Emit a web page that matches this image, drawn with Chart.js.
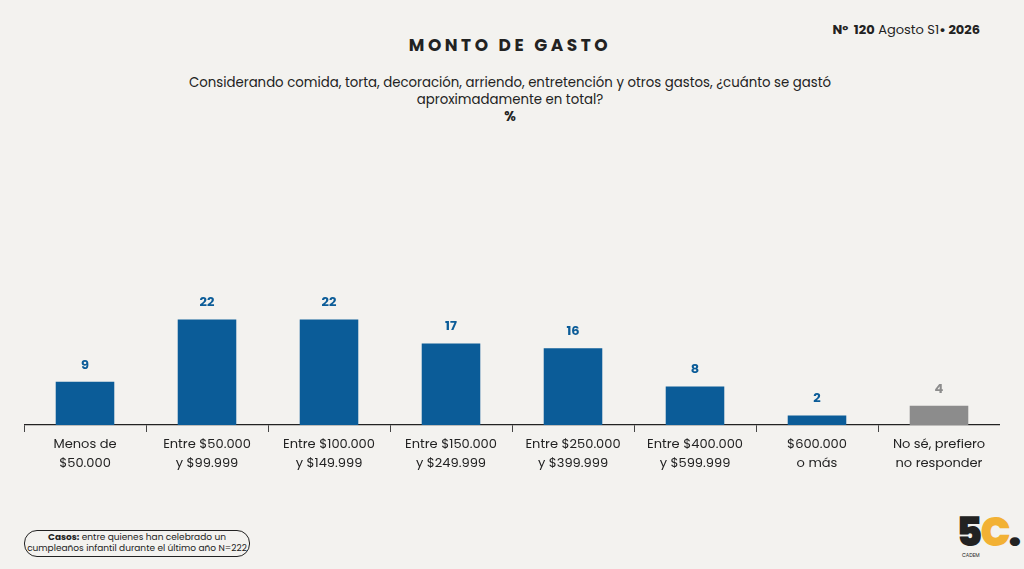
<!DOCTYPE html>
<html><head><meta charset="utf-8">
<script src="https://cdn.jsdelivr.net/npm/chart.js@4"></script>
<style>
body{margin:0;width:1024px;height:569px;background:#f3f2ef;font-family:Poppins,"Open Sans",sans-serif;position:relative;overflow:hidden;color:#222}
.t{position:absolute;left:0;width:1020px;text-align:center}
#box{position:absolute;left:0;top:130px;width:1000px;height:350px;padding-left:24px}
</style></head><body>
<div class="t" style="top:32px;font-weight:700;font-size:17px;letter-spacing:3.5px">MONTO DE GASTO</div>
<div style="position:absolute;right:44px;top:20px;font-size:13px;"><b>N°&nbsp; 120</b> Agosto S1<b>• 2026</b></div>
<div class="t" style="top:74px;font-size:13.3px;line-height:17px">Considerando comida, torta, decoración, arriendo, entretención y otros gastos, ¿cuánto se gastó<br>aproximadamente en total?<br><b>%</b></div>
<div id="box"><canvas id="c" width="976" height="350"></canvas></div>
<div style="position:absolute;left:24px;top:530px;width:224px;height:24px;border:1.3px solid #222;border-radius:13px;font-size:9px;line-height:11px;text-align:center;padding-top:1px;white-space:nowrap"><b>Casos:</b> entre quienes han celebrado un<br>cumpleaños infantil durante el último año N=222</div>
<div style="position:absolute;left:956px;top:512px;font-size:40px;font-weight:900;letter-spacing:-2px;line-height:40px">5<span style="color:#f2b134">C</span>.</div>
<div style="position:absolute;left:962px;top:552px;font-size:5px">CADEM</div>
<script>
const categories=[["Menos de","$50.000"],["Entre $50.000","y $99.999"],["Entre $100.000","y $149.999"],["Entre $150.000","y $249.999"],["Entre $250.000","y $399.999"],["Entre $400.000","y $599.999"],["$600.000","o más"],["No sé, prefiero","no responder"]];
const values=[9,22,22,17,16,8,2,4];
const barColors=['#0b5c98','#0b5c98','#0b5c98','#0b5c98','#0b5c98','#0b5c98','#0b5c98','#8c8c8c'];
const labelsPlugin={id:'lbl',afterDatasetsDraw(ch){const ctx=ch.ctx;const m=ch.getDatasetMeta(0);ctx.save();ctx.font='bold 13px Poppins, "Open Sans", sans-serif';ctx.textAlign='center';ctx.textBaseline='bottom';
m.data.forEach((b,i)=>{ctx.fillStyle=barColors[i];ctx.fillText(values[i],b.x,b.y-10);});ctx.restore();}};
new Chart(document.getElementById('c'),{type:'bar',
data:{labels:categories,datasets:[{data:values,backgroundColor:barColors,barPercentage:0.48,categoryPercentage:1}]},
options:{responsive:false,animation:false,layout:{padding:{top:7}},
plugins:{legend:{display:false},tooltip:{enabled:false}},
scales:{y:{display:false,min:0,max:60},
x:{afterFit(s){s.height=55;},border:{color:'#222',width:1.3},grid:{offset:true,drawOnChartArea:false,color:'#444',tickLength:7},
ticks:{color:'#222',font:{size:13,family:'Poppins, "Open Sans", sans-serif',lineHeight:1.4},padding:4,maxRotation:0}}}},
plugins:[labelsPlugin]});
</script>
</body></html>
